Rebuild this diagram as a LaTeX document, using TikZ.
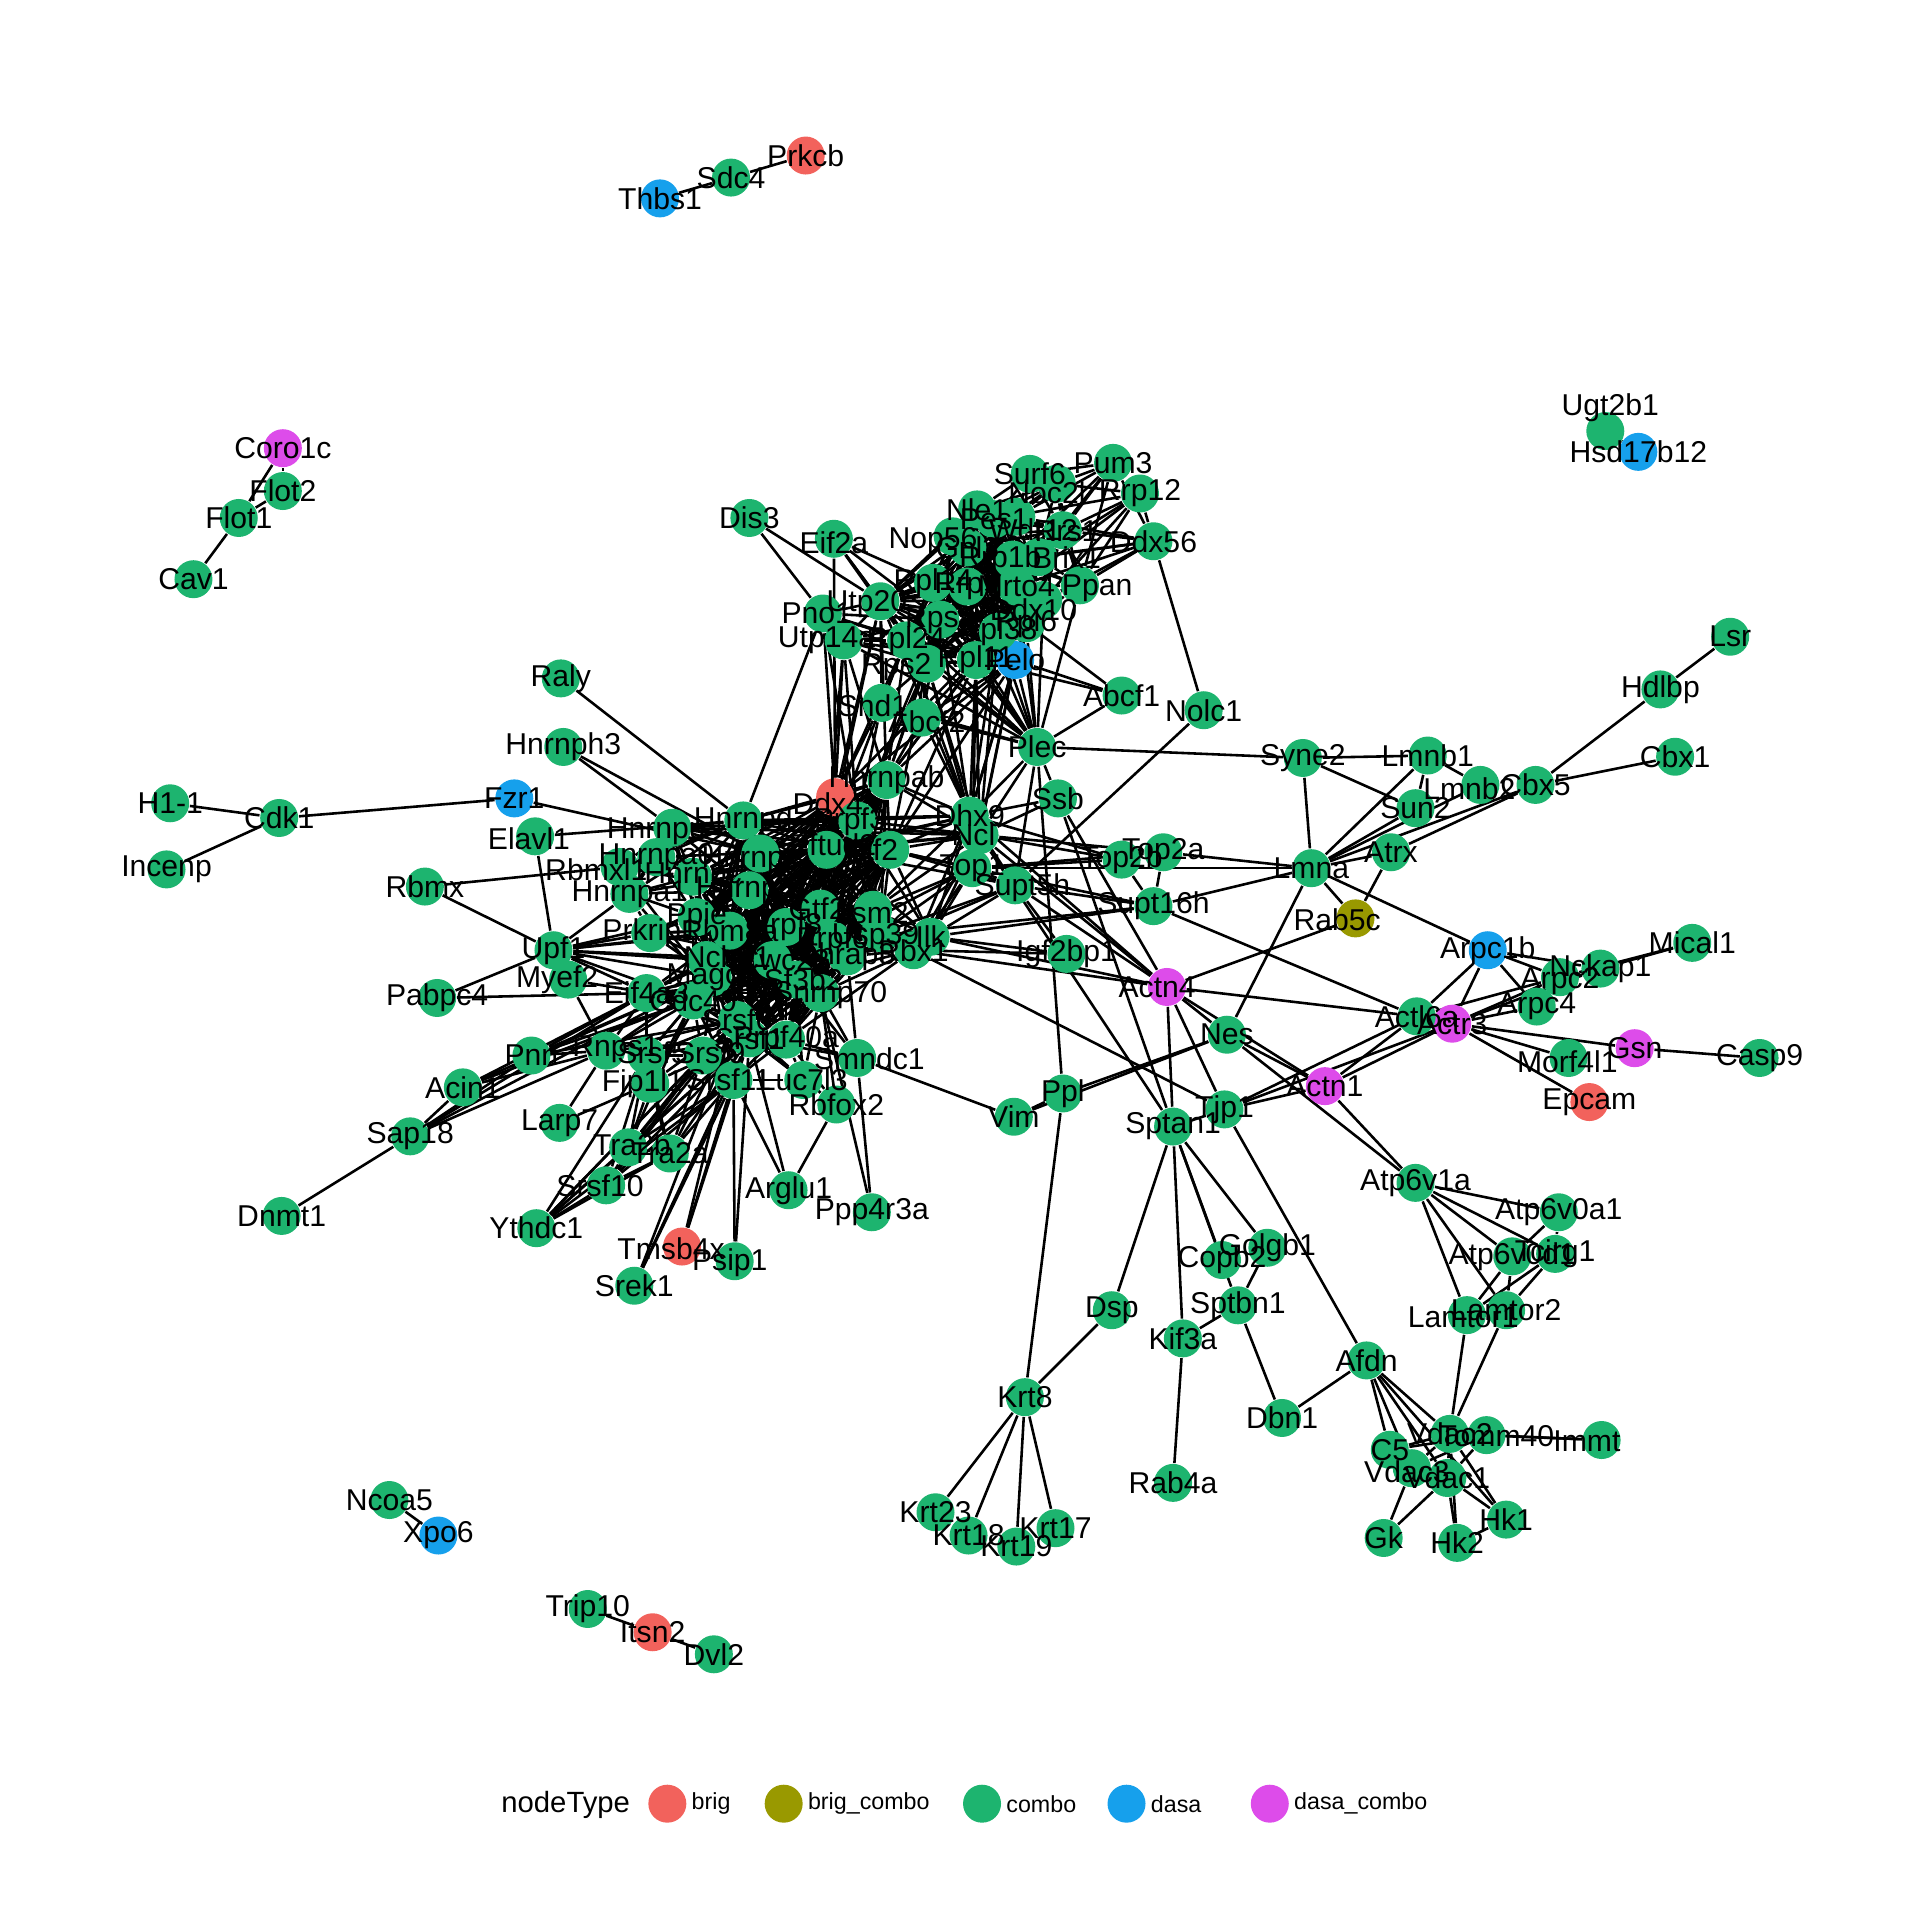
\documentclass[tikz,border=0pt]{standalone}
\usepackage{fontspec}
\setmainfont{Liberation Sans}
\usepackage{tikz}
\usetikzlibrary{positioning,backgrounds}
\definecolor{BrigRed}{HTML}{F2625C}
\definecolor{BrigOlive}{HTML}{999900}
\definecolor{ComboGreen}{HTML}{1DB46F}
\definecolor{DasaBlue}{HTML}{16A0EC}
\definecolor{DasaMagenta}{HTML}{DD4CEA}

\begin{document}
\begin{tikzpicture}[
  x=0.01cm, y=-0.01cm,
  gnode/.style={circle, inner sep=0pt, minimum size=0.31cm},
  brig/.style={gnode, fill=BrigRed},
  brigcombo/.style={gnode, fill=BrigOlive},
  combo/.style={gnode, fill=ComboGreen},
  dasa/.style={gnode, fill=DasaBlue},
  dasacombo/.style={gnode, fill=DasaMagenta},
  link/.style={line width=0.6pt, black},
  lbl/.style={font=\fontsize{7}{8}\selectfont, inner sep=0pt},
  keytitle/.style={font=\fontsize{6.8}{8}\selectfont, inner sep=0pt},
  keylbl/.style={font=\fontsize{5.4}{7}\selectfont, inner sep=0pt},
]
\useasboundingbox (0,0) rectangle (1568,1568);

% node lists
\def\RiboList{Utp20,Rpl24,Rps2,Rps9,Rpl14,Rrp9,Rpl38,Rpl11,Pelo,Rpl6,Ddx10,Mrto4,Brix1,Rrp1b,Gnl3,Nop56,Pes1,Wdr12,Rrs1,Nle1}
\def\CoreList{Hnrnpab,Ddx4,Prpf3,Eftud2,Ilf2,Hnrnpd,Hnrnpf,Hnrnpc,Hnrnpm,Ppie,Rbm8a,Prpf8,Gtf2i,Lsm2,Usp39,Prpf6,Thrap3,Cwc22,Ncbp1,Magoh,Sf3b2,Snrnp70,Cdc40,Srsf6,Srsf1,Prpf40a}

% nodes by type
\foreach \n/\x/\y in {Prkcb/658/127, Ddx4/682/651, Tmsb4x/557/1018, Epcam/1298/900, Itsn2/533/1333}
  \node[brig] (\n) at (\x,\y) {};
\node[brigcombo] (Rab5c) at (1107,750) {};
\foreach \n/\x/\y in {Thbs1/539/162, Hsd17b12/1338/369, Fzr1/420/652, Pelo/829/539, Arpc1b/1215/776, Xpo6/358/1254}
  \node[dasa] (\n) at (\x,\y) {};
\foreach \n/\x/\y in {Coro1c/231/366, Actn4/953/806, Actr3/1186/836, Gsn/1335/856, Actn1/1082/887}
  \node[dasacombo] (\n) at (\x,\y) {};
\foreach \n/\x/\y in {Sdc4/597/145, Ugt2b1/1311/352, Flot2/231/401, Flot1/195/423, Cav1/158/473,
  Ncoa5/318/1225, Trip10/480/1314, Dvl2/583/1351, H11/139/656, Cdk1/228/668, Incenp/136/710,
  Dis3/612/423, Eif2a/681/440, Surf6/841/387, Pum3/909/378, Noc2l/863/395, Rrp12/931/403,
  Ddx56/942/442, Nle1/798/416, Pes1/812/424, Wdr12/830/422, Rrs1/868/433, Nop56/778/438,
  Gnl3/790/447, Rrp1b/827/457, Brix1/848/455, Ppan/882/478, Rpl14/762/476, Rrp9/790/479,
  Mrto4/830/479, Ddx10/852/490, Utp20/719/491, Pno1/672/501, Rps9/768/506, Rpl38/815/516,
  Rpl6/838/509, Utp14a/689/523, Rpl24/740/523, Rps2/757/542, Rpl11/797/539,
  Snd1/720/574, Abcf2/753/586, Abcf1/916/568, Nolc1/983/580, Plec/847/610,
  Raly/458/554, Hnrnph3/460/610, Elavl1/437/683, Rbmx/347/724, Upf1/452/776, Myef2/464/800,
  Pabpc4/357/815, Pnn/434/862, Rnps1/495/858, Acin1/378/888, Sap18/335/928, Dnmt1/230/993,
  Larp7/457/917, Hnrnpab/724/637, Hnrnpd/607/670, Hnrnpu/549/676, Prpf3/700/670,
  Eftud2/675/694, Ilf2/727/694, Hnrnpf/621/697, Rbmxl1/506/708, Hnrnpa0/536/700,
  Hnrnpc/566/716, Hnrnpa1/514/730, Hnrnpm/612/727, Ppie/569/749, Prkrip1/531/762,
  Rbm8a/596/760, Prpf8/642/757, Gtf2i/670/742, Lsm2/713/743, Usp39/719/762, Ilk/760/765,
  Rbx1/746/776, Prpf6/680/768, Thrap3/692/781, Ncbp1/577/784, Cwc22/631/784, Magoh/582/798,
  Sf3b2/650/800, Snrnp70/670/811, Eif4a3/528/811, Cdc40/566/817, Srsf6/602/833, Srsf1/612/848,
  Prpf40a/642/849, Smndc1/700/864, Srsf5/528/862, Srsf9/574/862, Fip1l1/531/885,
  Srsf11/599/882, Luc7l3/656/882, Rbfox2/683/902, Tra2b/513/937, Tra2a/547/942,
  Srsf10/495/968, Ythdc1/438/1003, Arglu1/644/972, Ppp4r3a/712/990, Psip1/600/1030,
  Srek1/518/1050, Dhx9/792/666, Ncl/800/682, Top1/794/709, Supt5h/829/723, Ssb/864/652,
  Top2b/916/702, Top2a/950/696, Supt16h/942/740, Igf2bp1/871/779,
  Syne2/1064/619, Lmna/1071/709, Lmnb1/1166/617, Lmnb2/1209/641, Cbx5/1254/641,
  Cbx1/1368/618, Sun2/1156/660, Atrx/1136/696, Hdlbp/1356/563, Lsr/1413/520,
  Nckap1/1307/791, Arpc2/1274/798, Mical1/1382/770, Arpc4/1255/822, Actl6a/1157/830,
  Casp9/1437/864, Morf4l1/1281/864, Nes/1002/845, Ppl/868/893, Vim/828/912, Tjp1/1000/906,
  Sptan1/958/920, Golgb1/1035/1019, Copb2/998/1029, Sptbn1/1011/1066, Dsp/908/1070,
  Kif3a/966/1093, Rab4a/958/1211, Dbn1/1047/1158, Afdn/1116/1111,
  Krt8/837/1141, Krt23/764/1235, Krt18/791/1254, Krt19/830/1263, Krt17/862/1248,
  Atp6v1a/1156/966, Atp6v0a1/1273/990, Atp6v0d1/1235/1026, Tcirg1/1270/1024,
  Lamtor1/1198/1074, Lamtor2/1230/1070, Vdac2/1184/1171, Tomm40/1214/1172, Immt/1308/1176,
  C5/1135/1184, Vdac3/1153/1199, Vdac1/1182/1207, Gk/1130/1256, Hk2/1190/1260, Hk1/1230/1241}
  \node[combo] (\n) at (\x,\y) {};

% edges
\begin{scope}[on background layer]
  % small components
  \foreach \a/\b in {Thbs1/Sdc4, Sdc4/Prkcb, Coro1c/Flot2, Coro1c/Flot1, Flot1/Flot2, Flot1/Cav1,
    Ugt2b1/Hsd17b12, Ncoa5/Xpo6, Trip10/Itsn2, Itsn2/Dvl2, H11/Cdk1, Cdk1/Incenp, Cdk1/Fzr1, Fzr1/Hnrnpf}
    \draw[link] (\a) -- (\b);

  % ribosome cluster
  \foreach \a [count=\i] in \RiboList {
    \foreach \b [count=\j] in \RiboList {
      \ifnum\j>\i \draw[link] (\a) -- (\b); \fi
    }
  }
  \foreach \a/\b in {Dis3/Pno1, Dis3/Utp20, Eif2a/Utp20, Eif2a/Rps9, Eif2a/Rpl24, Eif2a/Rps2, Eif2a/Rpl14,
    Pno1/Utp20, Pno1/Rps2, Pno1/Rpl24, Pno1/Rps9, Pno1/Utp14a, Pno1/Rpl11, Utp14a/Utp20, Utp14a/Rpl24,
    Utp14a/Rps2, Utp14a/Rpl11, Utp14a/Rps9, Surf6/Noc2l, Surf6/Nle1, Surf6/Pum3, Surf6/Wdr12, Surf6/Rrs1,
    Surf6/Pes1, Pum3/Noc2l, Pum3/Rrs1, Pum3/Brix1, Pum3/Ddx56, Pum3/Wdr12, Pum3/Ppan, Pum3/Rrp1b,
    Pum3/Mrto4, Rrp12/Noc2l, Rrp12/Rrs1, Rrp12/Brix1, Rrp12/Ppan, Rrp12/Ddx56, Rrp12/Pes1, Rrp12/Ddx10,
    Rrp12/Mrto4, Noc2l/Nle1, Noc2l/Rrs1, Noc2l/Brix1, Noc2l/Wdr12, Noc2l/Gnl3, Noc2l/Nop56, Noc2l/Ppan,
    Ddx56/Brix1, Ddx56/Rrs1, Ddx56/Ppan, Ddx56/Mrto4, Ddx56/Ddx10, Ddx56/Nolc1, Ddx56/Rrp1b, Ddx56/Wdr12,
    Ppan/Brix1, Ppan/Rrs1, Ppan/Mrto4, Ppan/Ddx10, Ppan/Rrp1b, Ppan/Gnl3, Ppan/Rpl6, Ppan/Plec,
    Abcf1/Pelo, Abcf1/Rpl11, Abcf1/Plec, Abcf1/Rpl6, Nolc1/Supt5h}
    \draw[link] (\a) -- (\b);
  \foreach \u in {Utp20,Rpl24,Rps2,Rps9,Rpl14,Rrp9,Rpl38,Rpl11,Pelo,Rpl6,Ddx10,Mrto4,Utp14a,Snd1,Abcf2}
    \draw[link] (\u) -- (Plec);
  \foreach \u in {Rps2,Rpl24,Rpl11,Rpl38,Pelo,Rps9,Utp20,Rpl6,Abcf2}
    \draw[link] (\u) -- (Dhx9);
  \foreach \u in {Rpl11,Pelo,Rpl38,Rps2}
    \draw[link] (\u) -- (Ncl);
  \draw[link] (Pelo) -- (Top1);
  \draw[link] (Rpl11) -- (Top1);
  \foreach \a/\b in {Pno1/Ddx4, Pno1/Hnrnpd, Pno1/Prpf3, Utp14a/Ddx4, Utp14a/Prpf3, Utp14a/Eftud2,
    Utp14a/Hnrnpab, Utp20/Hnrnpab, Utp20/Ddx4, Utp20/Eftud2, Rps2/Prpf3, Rps2/Hnrnpab, Rps2/Ilf2,
    Rpl24/Eftud2, Rpl24/Ddx4, Rpl24/Hnrnpab, Rps9/Hnrnpab, Rps9/Prpf3, Rpl11/Hnrnpab, Rpl11/Ilf2,
    Rpl38/Ddx4, Rpl38/Hnrnpab, Pelo/Ddx4, Pelo/Ilf2, Pelo/Hnrnpab, Snd1/Rps2, Snd1/Rpl24, Snd1/Utp20,
    Snd1/Ddx4, Snd1/Prpf3, Abcf2/Rps2, Abcf2/Rpl11, Abcf2/Pelo, Abcf2/Rps9, Abcf2/Hnrnpab, Eif2a/Ddx4}
    \draw[link] (\a) -- (\b);

  % splicing core
  \foreach \a [count=\i] in \CoreList {
    \foreach \b [count=\j] in \CoreList {
      \ifnum\j>\i \draw[link] (\a) -- (\b); \fi
    }
  }
  \foreach \b in {Hnrnpd,Hnrnpf,Hnrnpc,Hnrnpa1,Hnrnpa0,Hnrnpm,Ppie,Prpf3,Eftud2,Ilf2,Magoh,Rbmxl1,Ncl}
    \draw[link] (Hnrnpu) -- (\b);
  \foreach \b in {Hnrnpd,Hnrnpc,Hnrnpa1,Hnrnpm,Rbmxl1,Ppie,Prpf8,Eftud2}
    \draw[link] (Hnrnpa0) -- (\b);
  \foreach \b in {Hnrnpa1,Hnrnpc,Hnrnpd,Hnrnpm,Srsf6}
    \draw[link] (Rbmxl1) -- (\b);
  \foreach \b in {Hnrnpc,Hnrnpm,Hnrnpd,Ppie,Prkrip1,Srsf6,Ilf2}
    \draw[link] (Hnrnpa1) -- (\b);
  \foreach \b in {Ppie,Rbm8a,Prpf8,Cwc22,Magoh,Eftud2,Ncbp1}
    \draw[link] (Prkrip1) -- (\b);
  \foreach \b in {Magoh,Cdc40,Ncbp1,Cwc22,Srsf6,Srsf1,Rbm8a,Prpf8,Snrnp70,Sf3b2}
    \draw[link] (Eif4a3) -- (\b);
  \foreach \b in {Ilf2,Lsm2,Usp39,Prpf6,Thrap3,Dhx9,Ncl,Top1,Supt5h,Rbx1,Eftud2,Prpf3,Supt16h,Igf2bp1,Actn4}
    \draw[link] (Ilk) -- (\b);
  \foreach \b in {Usp39,Prpf6,Thrap3,Sf3b2,Snrnp70,Lsm2,Dhx9,Ncl,Top1,Igf2bp1,Actn4,Tjp1,Prpf40a}
    \draw[link] (Rbx1) -- (\b);

  % nucleolar and chromatin hubs
  \foreach \a/\b in {Dhx9/Ncl, Dhx9/Top1, Ncl/Top1, Dhx9/Supt5h, Ncl/Supt5h, Top1/Supt5h, Dhx9/Ssb,
    Ncl/Ssb, Plec/Dhx9, Plec/Ncl, Plec/Ssb, Plec/Supt5h, Dhx9/Hnrnpab, Dhx9/Prpf3, Dhx9/Eftud2,
    Dhx9/Ilf2, Dhx9/Lsm2, Dhx9/Hnrnpd, Dhx9/Hnrnpc, Ncl/Ilf2, Ncl/Prpf3, Ncl/Eftud2, Ncl/Lsm2,
    Ncl/Hnrnpab, Ncl/Hnrnpd, Ncl/Hnrnpf, Top1/Ilf2, Top1/Lsm2, Top1/Usp39, Top1/Prpf6, Supt5h/Usp39,
    Supt5h/Thrap3, Ncl/Top2a, Dhx9/Top2b, Ncl/Top2b, Top1/Top2b, Top1/Top2a, Top2a/Supt16h,
    Top2b/Supt16h, Top2a/Lmna, Supt5h/Supt16h, Top1/Supt16h, Supt16h/Lmna, Supt16h/Prpf6,
    Supt16h/Actl6a, Top1/Lmna, Ssb/Sptan1, Ssb/Actn4, Dhx9/Actn4, Ncl/Actn4, Supt5h/Actn4,
    Supt5h/Igf2bp1, Plec/Ppl, Plec/Syne2, Ncl/Sptan1, Eftud2/Supt5h, Ilf2/Supt5h, Ilf2/Top1}
    \draw[link] (\a) -- (\b);

  % lamina
  \foreach \a/\b in {Syne2/Lmna, Syne2/Lmnb1, Syne2/Sun2, Lmnb1/Lmnb2, Lmnb1/Sun2, Lmnb1/Lmna,
    Lmna/Sun2, Lmna/Lmnb2, Lmna/Cbx5, Lmna/Atrx, Atrx/Cbx5, Cbx5/Cbx1, Cbx5/Hdlbp, Hdlbp/Lsr,
    Lmna/Rab5c, Atrx/Rab5c, Rab5c/Actn4, Lmna/Arpc1b, Lmna/Nes}
    \draw[link] (\a) -- (\b);

  % actin
  \foreach \a/\b in {Arpc1b/Actr3, Arpc1b/Actl6a, Arpc1b/Arpc2, Arpc1b/Nckap1, Arpc1b/Arpc4,
    Actr3/Arpc2, Actr3/Arpc4, Actr3/Nckap1, Actl6a/Arpc2, Nckap1/Mical1, Arpc2/Mical1, Actr3/Gsn,
    Actr3/Morf4l1, Actr3/Epcam, Gsn/Casp9, Actl6a/Actr3, Actr3/Actn1, Actl6a/Actn1, Tjp1/Actl6a,
    Tjp1/Actr3, Tjp1/Actn1, Actn4/Actl6a, Actn4/Actn1, Nes/Actn1, Nes/Atp6v1a, Actn1/Atp6v1a,
    Actn4/Nes, Actn4/Tjp1, Actn4/Sptan1, Ppl/Nes, Vim/Ppl, Vim/Nes, Vim/Smndc1, Ppl/Krt8,
    Sptan1/Tjp1, Tjp1/Afdn}
    \draw[link] (\a) -- (\b);

  % spectrin and keratins
  \foreach \a/\b in {Sptan1/Dsp, Sptan1/Kif3a, Sptan1/Copb2, Sptan1/Golgb1, Sptan1/Sptbn1,
    Sptbn1/Golgb1, Sptbn1/Kif3a, Sptbn1/Dbn1, Kif3a/Rab4a, Dsp/Krt8, Dbn1/Afdn, Krt8/Krt23,
    Krt8/Krt18, Krt8/Krt19, Krt8/Krt17}
    \draw[link] (\a) -- (\b);

  % mitochondria and v-ATPase
  \foreach \a/\b in {Afdn/C5, Afdn/Vdac3, Afdn/Vdac1, Afdn/Vdac2, Afdn/Hk1, Lamtor1/Vdac2,
    Lamtor2/Vdac2, Vdac2/Immt, Tomm40/Immt, Vdac2/C5, Vdac2/Vdac1, Vdac2/Vdac3, Vdac2/Hk1,
    Tomm40/Vdac3, Vdac1/Hk2, Vdac1/Hk1, Hk1/Hk2, Vdac3/Gk, Vdac1/Gk, C5/Tomm40, Vdac3/Vdac1,
    Tomm40/Vdac1, Vdac2/Hk2, Atp6v1a/Atp6v0a1, Atp6v1a/Tcirg1, Atp6v1a/Atp6v0d1, Atp6v1a/Lamtor1,
    Atp6v1a/Lamtor2, Atp6v0a1/Tcirg1, Atp6v0a1/Atp6v0d1, Atp6v0d1/Lamtor1, Atp6v0d1/Lamtor2,
    Tcirg1/Lamtor2, Tcirg1/Lamtor1}
    \draw[link] (\a) -- (\b);

  % left and lower satellites
  \foreach \a/\b in {Raly/Hnrnpd, Hnrnph3/Hnrnpu, Hnrnph3/Hnrnpf, Elavl1/Upf1, Elavl1/Hnrnpd,
    Rbmx/Upf1, Rbmx/Rbmxl1, Upf1/Pabpc4, Upf1/Hnrnpa1, Myef2/Rnps1, Myef2/Cdc40, Pabpc4/Eif4a3,
    Acin1/Sap18, Sap18/Dnmt1, Rnps1/Larp7, Larp7/Fip1l1, Tmsb4x/Srsf1, Tmsb4x/Srsf6, Srek1/Srsf1,
    Srek1/Srsf6, Psip1/Srsf1, Arglu1/Srsf1, Ppp4r3a/Snrnp70, Ythdc1/Srsf6, Ythdc1/Srsf1}
    \draw[link] (\a) -- (\b);
  \foreach \b in {Ncbp1,Magoh,Cwc22,Eif4a3,Rbm8a,Cdc40,Ppie,Prpf8,Prkrip1}
    \draw[link] (Upf1) -- (\b);
  \foreach \b in {Eif4a3,Magoh,Cdc40,Srsf6,Rnps1}
    \draw[link] (Pnn) -- (\b);
  \foreach \b in {Eif4a3,Magoh,Rnps1,Cdc40}
    \draw[link] (Acin1) -- (\b);
  \foreach \b in {Pnn,Rnps1,Eif4a3,Magoh}
    \draw[link] (Sap18) -- (\b);
  \foreach \b in {Eif4a3,Magoh,Srsf6,Cdc40,Srsf1}
    \draw[link] (Rnps1) -- (\b);
  \foreach \b in {Srsf6,Srsf1,Cdc40,Tra2b,Tra2a,Magoh}
    \draw[link] (Fip1l1) -- (\b);
  \foreach \b in {Srsf6,Srsf1,Cdc40,Magoh,Eif4a3,Srsf9,Tra2b,Tra2a,Srsf10,Ythdc1}
    \draw[link] (Srsf5) -- (\b);
  \foreach \b in {Srsf6,Srsf1,Cdc40,Prpf40a,Tra2b,Tra2a,Srsf10,Ythdc1,Srsf11,Magoh}
    \draw[link] (Srsf9) -- (\b);
  \foreach \b in {Srsf6,Srsf1,Prpf40a,Snrnp70,Magoh,Tra2b,Tra2a,Srsf10,Ythdc1,Tmsb4x,Srek1,Psip1,Arglu1,Luc7l3,Cdc40}
    \draw[link] (Srsf11) -- (\b);
  \foreach \b in {Srsf1,Prpf40a,Snrnp70,Srsf6,Rbfox2,Sf3b2}
    \draw[link] (Luc7l3) -- (\b);
  \foreach \b in {Snrnp70,Srsf1,Arglu1,Prpf40a}
    \draw[link] (Rbfox2) -- (\b);
  \foreach \b in {Snrnp70,Prpf40a,Sf3b2,Srsf1,Ppp4r3a,Thrap3}
    \draw[link] (Smndc1) -- (\b);
  \foreach \b in {Srsf6,Srsf1,Tra2a,Srsf10,Ythdc1,Cdc40}
    \draw[link] (Tra2b) -- (\b);
  \foreach \b in {Srsf6,Srsf1,Srsf10,Ythdc1}
    \draw[link] (Tra2a) -- (\b);
  \foreach \b in {Srsf6,Srsf1,Ythdc1}
    \draw[link] (Srsf10) -- (\b);
\end{scope}

% labels
\foreach \n in {Prkcb, Sdc4, Thbs1, Coro1c, Flot2, Flot1, Cav1, Hsd17b12, Ncoa5, Xpo6, Trip10, Itsn2,
  Dvl2, Cdk1, Incenp, Fzr1, Dis3, Surf6, Pum3, Rrp12, Ddx56, Nle1, Pes1, Gnl3, Rpl14, Rrp9, Mrto4,
  Rps9, Rpl38, Rpl6, Rpl24, Rpl11, Pelo, Abcf1, Nolc1, Plec, Raly, Hnrnph3, Rbmx, Upf1, Pabpc4, Pnn,
  Acin1, Sap18, Dnmt1, Larp7, Hnrnpab, Hnrnpd, Hnrnpa0, Hnrnpc, Hnrnpa1, Hnrnpm, Ppie, Prkrip1,
  Rbm8a, Prpf8, Gtf2i, Ilk, Rbx1, Prpf6, Thrap3, Magoh, Eif4a3, Cdc40, Srsf6, Srsf1, Prpf40a,
  Luc7l3, Rbfox2, Tra2a, Ythdc1, Arglu1, Ppp4r3a, Srek1, Dhx9, Top1, Ssb, Top2b, Top2a, Supt16h,
  Igf2bp1, Syne2, Lmna, Lmnb1, Cbx5, Cbx1, Sun2, Atrx, Hdlbp, Lsr, Arpc1b, Nckap1, Mical1, Arpc4,
  Actr3, Actl6a, Gsn, Casp9, Epcam, Actn1, Nes, Ppl, Vim, Tjp1, Sptan1, Golgb1, Copb2, Sptbn1, Dsp,
  Kif3a, Rab4a, Dbn1, Afdn, Krt8, Krt23, Krt18, Krt19, Krt17, Atp6v1a, Atp6v0a1, Atp6v0d1, Tcirg1,
  Lamtor2, Vdac2, C5, Vdac1, Gk, Hk2, Hk1}
  \node[lbl] (l\n) at (\n) {\n};
\foreach \n/\dx/\dy in {Ugt2b1/4/-19, Rab5c/-15/1, Immt/-12/1, Tomm40/8/1, Lamtor1/-3/2, Vdac3/-4/3,
  Actn4/-8/0, Utp14a/-14/0, Utp20/-11/2, Pno1/-5/0, Nop56/-16/4, Rps2/-25/3, Brix1/23/0, Ppan/14/2,
  Ddx10/-8/8, Rrp1b/-10/0, Wdr12/14/11, Noc2l/-8/7, Eif2a/0/3, Ddx4/-6/5, Hnrnpu/-13/3,
  Snrnp70/8/2, Smndc1/10/1, Myef2/-9/0, Rnps1/8/-1, Elavl1/-5/2, Tmsb4x/-9/2, Lmnb2/-9/3,
  Ncl/-5/0, Supt5h/6/2, Hnrnpf/-11/5, Rbmxl1/-19/2, Snd1/-7/2, Abcf2/4/3, Prpf3/-6/1,
  Eftud2/5/-4, Ilf2/-10/0, Ncbp1/17/0, Cwc22/9/0, Sf3b2/6/0, Lsm2/-1/3, Usp39/-4/3,
  Fip1l1/-6/0, Srsf5/5/-2, Srsf9/6/-2, Srsf11/-4/0, Tra2b/3/-2, Morf4l1/-1/3, Arpc2/0/3,
  Psip1/-4/1, Srsf10/-5/0, Rrs1/3/1}
  \node[lbl] (l\n) at ([shift={(\dx,\dy)}]\n) {\n};
\node[lbl] (lH11) at (H11) {H1-1};

% legend
\node[keytitle] (ktitle) at (462,1474) {nodeType};
\node[brig] (kbrig) at (545,1473) {};
\node[keylbl, right=0.03cm of kbrig] (tbrig) {brig};
\node[brigcombo] (kbrigcombo) at (640,1473) {};
\node[keylbl, right=0.03cm of kbrigcombo] (tbrigcombo) {brig\_combo};
\node[combo] (kcombo) at (802,1473) {};
\node[keylbl, right=0.03cm of kcombo] (tcombo) {combo};
\node[dasa] (kdasa) at (920,1473) {};
\node[keylbl, right=0.03cm of kdasa] (tdasa) {dasa};
\node[dasacombo] (kdasacombo) at (1037,1473) {};
\node[keylbl, right=0.03cm of kdasacombo] (tdasacombo) {dasa\_combo};
\end{tikzpicture}
\end{document}
